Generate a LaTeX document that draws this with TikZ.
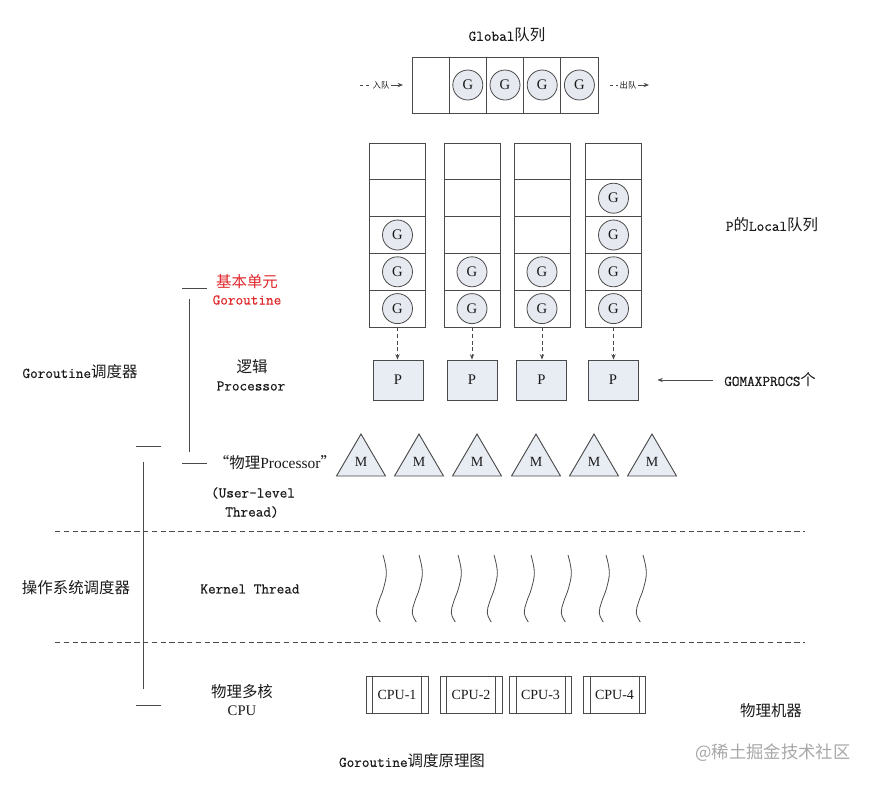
\documentclass[tikz,border=0pt]{standalone}
\usepackage{fontspec}
\setmainfont{Liberation Serif}
\setmonofont[FakeBold=0.6]{Latin Modern Mono}
\newfontfamily\cjk{Noto Sans CJK SC}
\usetikzlibrary{arrows.meta,calc}
\definecolor{ln}{HTML}{4A4A4A}
\definecolor{gfill}{HTML}{E6EAF0}
\definecolor{pfill}{HTML}{E8ECF3}
\definecolor{txt}{HTML}{1A1A1A}
\definecolor{redt}{HTML}{E0282C}
\definecolor{wm}{HTML}{A8A8A8}
\newcommand\zh[1]{{\cjk\fontsize{11.6}{13}\selectfont #1}}
\begin{document}
\begin{tikzpicture}[x=0.75pt,y=-0.75pt,
  lbl/.style={font=\ttfamily\fontsize{11.1}{13}\selectfont, text=txt, inner sep=0, align=center},
  gcell/.style={draw=ln, line width=0.7pt, minimum width={37.2*0.75pt}, minimum height={56*0.75pt}, inner sep=0},
  lcell/.style={draw=ln, line width=0.7pt, minimum width={56*0.75pt}, minimum height={36.8*0.75pt}, inner sep=0},
  gnode/.style={circle, draw=ln, line width=0.6pt, fill=gfill, minimum size={30*0.75pt}, inner sep=0, font=\rmfamily\fontsize{11}{11}\selectfont, text=txt},
  pbox/.style={draw=ln, line width=0.7pt, fill=pfill, minimum width={50*0.75pt}, minimum height={40*0.75pt}, inner sep=0, font=\rmfamily\fontsize{11}{11}\selectfont, text=txt},
  tri/.style={draw=ln, line width=0.7pt, fill=pfill},
  mlbl/.style={inner sep=0, font=\rmfamily\fontsize{10.5}{10.5}\selectfont, text=txt},
  cpubox/.style={draw=ln, line width=0.6pt, minimum width={62*0.75pt}, minimum height={37*0.75pt}, inner sep=0, font=\rmfamily\fontsize{10.5}{10.5}\selectfont, text=txt},
  wave/.style={draw=ln, line width=0.6pt},
  dasharr/.style={draw=ln, line width=0.6pt, dash pattern=on 3pt off 2pt, -{Stealth[length=4pt,width=3.2pt]}},
  solarr/.style={draw=ln, line width=0.6pt, -{Stealth[length=4pt,width=3.2pt]}},
  sep/.style={draw=ln, line width=0.6pt, dash pattern=on 4pt off 2.6pt},
  brk/.style={draw=ln, line width=0.7pt},
  smallzh/.style={inner sep=1pt, font=\cjk\fontsize{6.3}{7}\selectfont, text=txt}
]
\useasboundingbox[fill=white] (0,0) rectangle (876,786);

% Global queue
\node[lbl] (gtitle) at (507,35) {Global\zh{队列}};
\foreach \i in {1,...,5}{
  \node[gcell] (Q\i) at ({412+37.2*(\i-0.5)},85) {};
}
\foreach \i in {2,...,5}{
  \node[gnode] (QG\i) at (Q\i) {G};
}
\coordinate (enqs) at (360,85);
\coordinate (enqe) at (403,85);
\node[smallzh] (enq) at (381,85) {入队};
\draw[sep, dash pattern=on 2.5pt off 2pt] (enqs) -- (enq.west);
\draw[solarr] (enq.east) -- (enqe);
\coordinate (deqs) at (610,85);
\coordinate (deqe) at (649,85);
\node[smallzh] (deq) at (628,85) {出队};
\draw[sep, dash pattern=on 2.5pt off 2pt] (deqs) -- (deq.west);
\draw[solarr] (deq.east) -- (deqe);

% Local queues and P
\foreach \c/\xc/\s in {1/397.5/3,2/472/4,3/542/4,4/613.5/2}{
  \foreach \r in {1,...,5}{
    \node[lcell] (L\c r\r) at (\xc,{143+36.8*(\r-0.5)}) {};
    \ifnum\r<\s\else \node[gnode] at (L\c r\r) {G};\fi
  }
}
\foreach \c/\xc in {1/398,2/472,3/541.5,4/613}{
  \node[pbox] (P\c) at (\xc,380) {P};
  \draw[dasharr] (L\c r5.south) -- (L\c r5.south |- P\c.north);
}
\node[lbl] (localq) at (772,225) {P\zh{的}Local\zh{队列}};
\node[lbl, anchor=west] (gmp) at (724,380) {GOMAXPROCS\zh{个}};
\draw[solarr, shorten <={11*0.75pt}, shorten >={19*0.75pt}] (gmp.west) -- (P4.east);

% M triangles
\foreach \i/\xm in {1/361,2/419,3/477,4/536,5/594,6/652}{
  \draw[tri] (\xm,434) -- (\xm+24.5,476) -- (\xm-24.5,476) -- cycle;
  \node[mlbl] (M\i) at (\xm,462) {M};
}

% Kernel threads
\foreach \xw in {383,419,458,494,531,568,606,643}{
  \draw[wave] plot[smooth, tension=0.7] coordinates {(\xw,555) (\xw+3.3,572) (\xw+0.6,588) (\xw-4.4,602) (\xw-6.7,613) (\xw-2.7,622)};
}

% separators
\draw[sep] (55,531) -- (805,531);
\draw[sep] (55,642) -- (805,642);

% CPUs
\foreach \i/\xcp in {1/397,2/471,3/540.5,4/614.5}{
  \node[cpubox] (C\i) at (\xcp,694.5) {CPU-\i};
  \draw[brk, line width=0.6pt] ($(C\i.north west)+(7,0)$) -- ($(C\i.south west)+(7,0)$);
  \draw[brk, line width=0.6pt] ($(C\i.north east)+(-7,0)$) -- ($(C\i.south east)+(-7,0)$);
}

% left brackets
\draw[brk] (182,288) -- (207,288);
\draw[brk] (189,299) -- (189,452);
\draw[brk] (182,463) -- (207,463);
\draw[brk] (136,446) -- (161,446);
\draw[brk] (143,462) -- (143,689);
\draw[brk] (136,705) -- (161,705);

% left labels
\node[lbl, text=redt] (base1) at (247,282) {\zh{基本单元}};
\node[lbl, text=redt] (base2) at (247,300) {Goroutine};
\node[lbl] (logic1) at (252,367) {\zh{逻辑}};
\node[lbl] (logic2) at (251,386) {Processor};
\node[lbl] (phys) at (275,463) {\zh{“物理}{\rmfamily\fontsize{11.6}{13}\selectfont Processor}\zh{”}};
\node[lbl] (user1) at (253,493) {(User-level};
\node[lbl] (user2) at (252,512) {Thread)};
\node[lbl] (gsched) at (80,372) {Goroutine\zh{调度器}};
\node[lbl] (ossched) at (76,588) {\zh{操作系统调度器}};
\node[lbl] (kernel) at (250,589) {Kernel Thread};
\node[lbl] (core1) at (242,692) {\zh{物理多核}};
\node[lbl] (core2) at (242,711) {{\rmfamily\fontsize{11}{13}\selectfont CPU}};
\node[lbl] (machine) at (771,711) {\zh{物理机器}};
\node[lbl] (caption) at (412,761) {Goroutine\zh{调度原理图}};
\node[inner sep=0, text=wm, font=\cjk\fontsize{13}{15}\selectfont] (wmark) at (773,753) {@稀土掘金技术社区};
\end{tikzpicture}
\end{document}
